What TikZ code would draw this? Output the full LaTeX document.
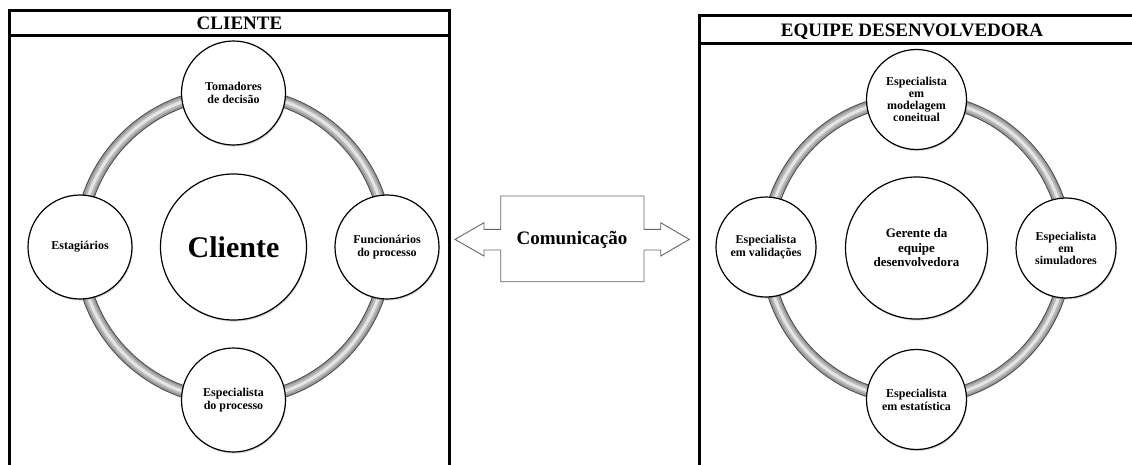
\documentclass[tikz,border=0pt]{standalone}
\usepackage{fontspec}
\setmainfont{Liberation Serif}
\usetikzlibrary{shadows}

\tikzset{
  frame/.style={line width=3pt, draw=black},
  member/.style={circle, draw=black, line width=1.2pt, fill=white,
    minimum size=104pt, inner sep=0pt, align=center,
    font=\bfseries\fontsize{12}{13}\selectfont,
    drop shadow={shadow xshift=0.8pt, shadow yshift=-1.6pt, opacity=0.3}},
  hub/.style={member, minimum size=146pt},
  bandout/.style={line width=12.5pt, draw=black!70},
  bandmid/.style={line width=10.5pt, draw=gray!80},
  bandsoft/.style={line width=7pt, draw=gray!55},
  bandlight/.style={line width=3pt, draw=gray!20},
  commbox/.style={draw=gray!80!black, line width=0.9pt, fill=white},
  heading/.style={font=\bfseries\fontsize{19}{22}\selectfont, anchor=base},
}

\begin{document}
\begin{tikzpicture}[x=1pt, y=-1pt]
  \useasboundingbox (0,0) rectangle (1132,464);
  \clip (0,0) rectangle (1132,464);

  % ---------- client panel ----------
  \draw[frame] (9,10) rectangle (449.5,480);
  \draw[frame] (9,35) -- (449.5,35);
  \node[heading] (clienttitle) at (239.5,29.3) {CLIENTE};

  \coordinate (cc) at (233.5,246.5);
  \foreach \layer in {bandout,bandmid,bandsoft,bandlight}
    \draw[\layer] (cc) circle[radius=153.5pt];

  \node[hub, font=\bfseries\fontsize{30}{34}\selectfont] (cliente) at (233.5,247) {Cliente};
  \node[member] (tomadores) at (233.5,93)  {Tomadores\\de decisão};
  \node[member] (estag)     at (80,247)    {Estagiários};
  \node[member] (func)      at (387,247)   {Funcionários\\do processo};
  \node[member] (espproc)   at (233.5,400) {Especialista\\do processo};

  % ---------- development team panel ----------
  \draw[frame] (699,15.7) rectangle (1160,480);
  \draw[frame] (699,43.3) -- (1160,43.3);
  \node[heading] (equipetitle) at (912,36.7) {EQUIPE DESENVOLVEDORA};

  \coordinate (ce) at (916.5,249);
  \foreach \layer in {bandout,bandmid,bandsoft,bandlight}
    \draw[\layer] (ce) circle[radius=150pt];

  \node[hub, minimum size=142pt, font=\bfseries\fontsize{13}{14.5}\selectfont]
    (gerente) at (916.5,248) {Gerente da\\equipe\\desenvolvedora};
  \node[member, minimum size=100pt, font=\bfseries\fontsize{12}{12}\selectfont]
    (modelagem) at (916.5,99.5) {Especialista\\em\\modelagem\\coneitual};
  \node[member, minimum size=100pt] (valid) at (766,247)   {Especialista\\em validações};
  \node[member, minimum size=100pt, font=\bfseries\fontsize{12}{12}\selectfont]
    (simul) at (1066,248)  {Especialista\\em\\simuladores};
  \node[member, minimum size=100pt] (estat) at (916.5,399.5) {Especialista\\em estatística};

  % ---------- communication double arrow ----------
  \draw[commbox]
    (455,239.4) -- (484,222.7) -- (484,229.3) -- (500.7,229.3) -- (500.7,196)
    -- (644,196) -- (644,229.3) -- (660.7,229.3) -- (660.7,222.7) -- (689.3,239.4)
    -- (660.7,256) -- (660.7,250) -- (644,250) -- (644,281.7) -- (500.7,281.7)
    -- (500.7,250) -- (484,250) -- (484,256) -- cycle;
  \node[font=\bfseries\fontsize{19}{22}\selectfont] (comm) at (572,239.5) {Comunicação};
\end{tikzpicture}
\end{document}
